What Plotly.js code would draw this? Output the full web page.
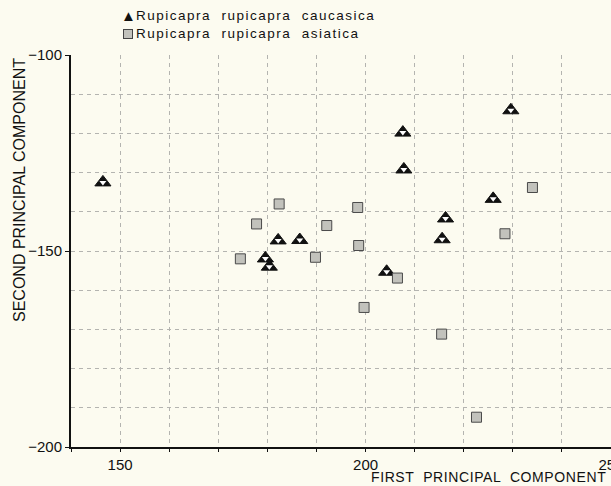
<!DOCTYPE html>
<html>
<head>
<meta charset="utf-8">
<script src="https://cdn.plot.ly/plotly-3.0.1.min.js"></script>
<style>
html,body{margin:0;padding:0;background:#fcfbf0;}
#chart{width:611px;height:486px;}
</style>
</head>
<body>
<div id="chart"></div>
<script>
// Rupicapra rupicapra caucasica (triangles)
var caucX = [146.5, 229.6, 207.6, 207.8, 226.0, 216.3, 215.6, 182.2, 186.6, 179.6, 180.4, 204.3];
var caucY = [-132.5, -114.1, -119.8, -129.2, -136.7, -141.7, -147.0, -147.3, -147.2, -151.9, -154.0, -155.3];
// Rupicapra rupicapra asiatica (squares)
var asiaX = [182.4, 198.4, 177.8, 192.1, 198.6, 174.5, 189.8, 206.5, 199.7, 215.5, 222.6, 234.0, 228.4];
var asiaY = [-138.0, -138.9, -143.1, -143.5, -148.6, -152.0, -151.6, -156.9, -164.4, -171.2, -192.4, -133.8, -145.6];

var xTicks = [150, 200, 250];
var yTicks = [-100, -150, -200];
var seriesNames = ['Rupicapra  rupicapra  caucasica', 'Rupicapra  rupicapra  asiatica'];
var xTitle = 'FIRST  PRINCIPAL  COMPONENT';
var yTitle = 'SECOND PRINCIPAL COMPONENT';

var FONT = 'Liberation Sans, Arial, sans-serif';
var BG = '#fcfbf0';
var GRID = '#b4b4b0';

var traces = [
  {x: caucX, y: caucY, type: 'scatter', mode: 'markers', name: seriesNames[0],
   marker: {symbol: 'triangle-up', size: 14, color: '#111', line: {color: '#111', width: 1}},
   cliponaxis: false},
  {x: caucX, y: caucY, type: 'scatter', mode: 'markers', showlegend: false,
   marker: {symbol: 'triangle-down', size: 6, color: '#ffffff', line: {width: 0}},
   cliponaxis: false},
  {x: asiaX, y: asiaY, type: 'scatter', mode: 'markers', name: seriesNames[1],
   marker: {symbol: 'square', size: 10, color: '#c2c2bc', line: {color: '#4a4a4a', width: 1}},
   cliponaxis: false}
];

var L = 71, T = 55, W = 611, H = 486, B = 39, R = 0;
var pw = W - L - R, ph = H - T - B;
function px(xp) { return (xp - L) / pw; }
function py(yp) { return (H - B - yp) / ph; }

var ls = 'letter-spacing:1.5px';
var annotations = [
  {xref: 'paper', yref: 'paper', x: px(128), y: py(15), xanchor: 'center', yanchor: 'middle',
   text: '▲', showarrow: false, font: {family: FONT, size: 15, color: '#111'}},
  {xref: 'paper', yref: 'paper', x: px(127.5), y: py(33.5), xanchor: 'center', yanchor: 'middle',
   text: '&nbsp;', width: 8, height: 8, borderpad: 0, bgcolor: '#c2c2bc', bordercolor: '#444', borderwidth: 1,
   showarrow: false, font: {family: FONT, size: 6}},
  {xref: 'paper', yref: 'paper', x: px(134), y: py(16), xanchor: 'left', yanchor: 'middle',
   text: '<span style="' + ls + '">' + seriesNames[0] + '</span>', showarrow: false,
   font: {family: FONT, size: 13.5, color: '#111'}},
  {xref: 'paper', yref: 'paper', x: px(134), y: py(33.5), xanchor: 'left', yanchor: 'middle',
   text: '<span style="' + ls + '">' + seriesNames[1] + '</span>', showarrow: false,
   font: {family: FONT, size: 13.5, color: '#111'}},
  {xref: 'paper', yref: 'paper', x: px(608), y: py(477), xanchor: 'right', yanchor: 'middle',
   text: '<span style="letter-spacing:0.6px">' + xTitle + '</span>', showarrow: false,
   font: {family: FONT, size: 14, color: '#111'}},
  {xref: 'paper', yref: 'paper', x: px(19), y: py(190), xanchor: 'center', yanchor: 'middle',
   text: yTitle, textangle: -90, showarrow: false,
   font: {family: FONT, size: 16, color: '#111'}}
];

var layout = {
  width: W, height: H,
  margin: {l: L, r: R, t: T, b: B, pad: 0},
  paper_bgcolor: BG, plot_bgcolor: BG,
  showlegend: false,
  hovermode: false,
  font: {family: FONT, color: '#111'},
  xaxis: {
    range: [140, 250], tickmode: 'array', tickvals: xTicks,
    ticks: 'outside', ticklen: 3, tickwidth: 1, tickcolor: '#111',
    tickfont: {family: FONT, size: 15, color: '#111'},
    ticklabeloverflow: 'allow',
    showline: true, linecolor: '#111', linewidth: 2,
    showgrid: true, gridcolor: GRID, gridwidth: 1, griddash: '4px,4px',
    zeroline: false, fixedrange: true,
    minor: {tickmode: 'linear', tick0: 140, dtick: 10, showgrid: true, gridcolor: GRID, gridwidth: 1,
            griddash: '4px,4px', ticks: 'outside', ticklen: 3, tickcolor: '#111'}
  },
  yaxis: {
    range: [-200, -100], tickmode: 'array', tickvals: yTicks,
    ticks: 'outside', ticklen: 4, tickwidth: 1, tickcolor: '#111',
    tickfont: {family: FONT, size: 15, color: '#111'},
    showline: true, linecolor: '#111', linewidth: 2,
    showgrid: true, gridcolor: GRID, gridwidth: 1, griddash: '4px,4px',
    zeroline: false, fixedrange: true,
    minor: {tickmode: 'linear', tick0: -200, dtick: 10, showgrid: true, gridcolor: GRID, gridwidth: 1,
            griddash: '4px,4px', ticks: ''}
  },
  annotations: annotations
};

Plotly.newPlot('chart', traces, layout, {displayModeBar: false, staticPlot: true});
</script>
</body>
</html>
